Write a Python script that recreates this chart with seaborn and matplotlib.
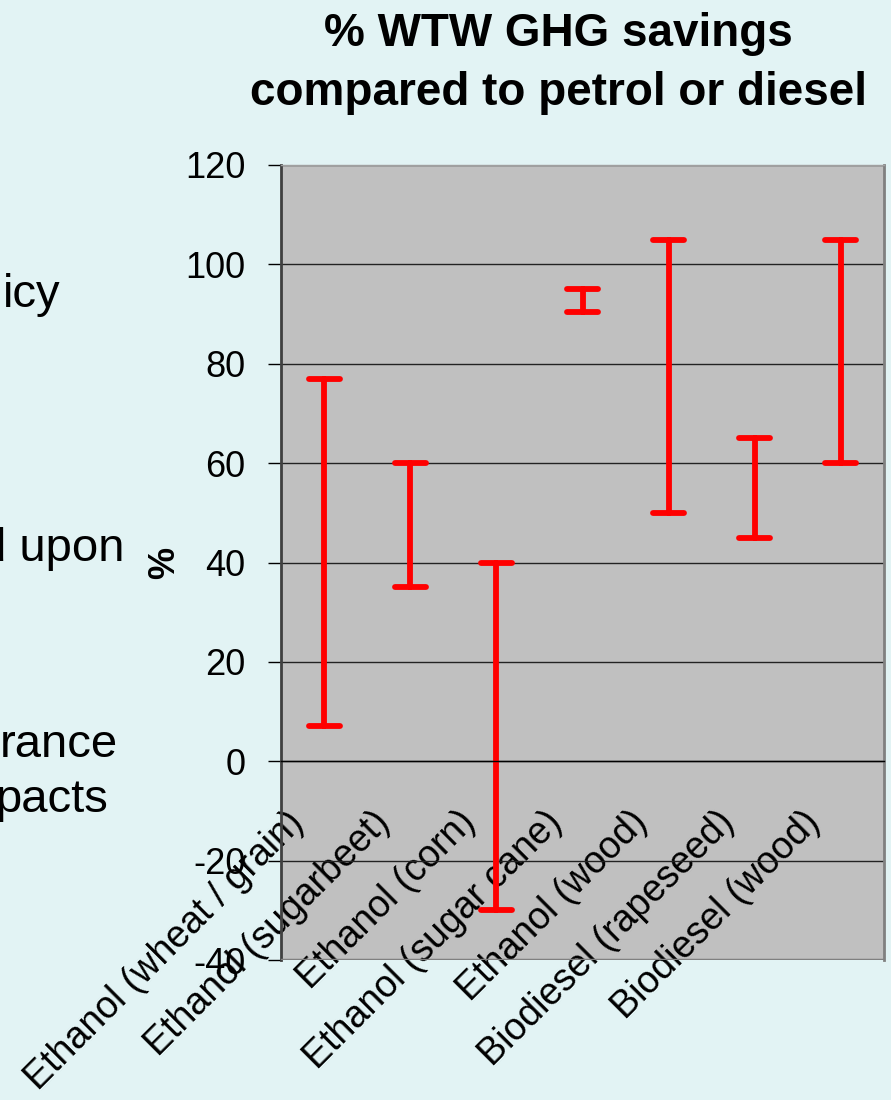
import numpy as np
import pandas as pd
import matplotlib
matplotlib.use("Agg")
import matplotlib.pyplot as plt
import matplotlib.transforms as mtrans
import seaborn as sns

# savings range per pathway (% well-to-wheel GHG vs petrol / diesel)
fuels = [
    "Ethanol (wheat / grain)",
    "Ethanol (sugarbeet)",
    "Ethanol (corn)",
    "Ethanol (sugar cane)",
    "Ethanol (wood)",
    "Biodiesel (rapeseed)",
    "Biodiesel (wood)",
]
low = [7, 35, -30, 90.5, 50, 45, 60]
high = [77, 60, 40, 95, 105, 65, 105]
y_ticks = [-40, -20, 0, 20, 40, 60, 80, 100, 120]
title = "% WTW GHG savings\ncompared to petrol or diesel"
# fragments of the slide text that is cut off at the left edge
side_text = ["icy", "d upon", "rance", "pacts"]

BG = "#e2f3f4"
PLOT_BG = "#c0c0c0"

sns.set_style("white")
plt.rcParams["font.family"] = ["Liberation Sans", "DejaVu Sans"]
plt.rcParams.update({
    "text.color": "black", "axes.labelcolor": "black",
    "xtick.color": "black", "ytick.color": "black",
    "axes.unicode_minus": False,
})

df = pd.DataFrame({
    "fuel": fuels * 2,
    "saving": low + high,
})

fig = plt.figure(figsize=(8.91, 11), dpi=100, facecolor=BG)
ax = fig.add_axes([281 / 891, 1 - 960 / 1100, 603 / 891, 795 / 1100])
ax.set_facecolor(PLOT_BG)

sns.pointplot(
    data=df, x="fuel", y="saving", order=fuels,
    estimator="mean", errorbar=lambda v: (v.min(), v.max()),
    color="red", marker="", linestyle="none",
    capsize=0.36, err_kws={"linewidth": 4.2, "color": "red"},
    ax=ax,
)

# x axis crosses at zero (do this before touching the ticks, it resets them)
ax.spines["bottom"].set_position(("data", 0))
ax.spines["bottom"].set_color("black")
ax.spines["bottom"].set_linewidth(1)
ax.spines["left"].set_color("#404040")
ax.spines["left"].set_linewidth(2)
ax.spines["right"].set_color("#808080")
ax.spines["right"].set_linewidth(2)
ax.spines["top"].set_color("#a0a0a0")
ax.spines["top"].set_linewidth(1)
ax.axhline(-40, color="#808080", linewidth=2.5, zorder=3)

ax.set_ylim(-40, 120)
ax.set_xlim(-0.5, len(fuels) - 0.5)
ax.set_yticks(y_ticks)
ax.tick_params(axis="y", direction="out", length=9.5, width=1,
               labelsize=26, pad=16, left=True)
ax.yaxis.grid(True, color="#222222", linewidth=1)
ax.xaxis.grid(False)
ax.set_axisbelow(True)

# category boundaries carry the tick marks, labels sit in between
ax.set_xticks(np.arange(-0.5, len(fuels)), labels=[""] * (len(fuels) + 1))
ax.set_xticks(range(len(fuels)), labels=fuels, minor=True)
ax.tick_params(axis="x", which="major", direction="inout", length=13, width=1)
ax.tick_params(axis="x", which="minor", length=0, labelsize=27, pad=0)
shift = mtrans.ScaledTranslation(-0.39, -0.43, fig.dpi_scale_trans)
for lab in ax.get_xticklabels(minor=True):
    lab.set_rotation(45)
    lab.set_ha("right")
    lab.set_va("top")
    lab.set_rotation_mode("anchor")
    lab.set_transform(lab.get_transform() + shift)

ax.set_xlabel("")
ax.set_ylabel("%", fontsize=26, fontweight="bold", labelpad=2)

fig.text(558 / 891, 1 - 12 / 1100, title, ha="center", va="top",
         fontsize=33, fontweight="bold", linespacing=1.45)

for txt, right, base in zip(side_text, [61, 125, 118, 108], [307, 561, 757, 812]):
    fig.text(right / 891, 1 - base / 1100, txt, ha="right", va="baseline",
             fontsize=34)

fig.savefig("out.png", dpi=100, facecolor=BG)
